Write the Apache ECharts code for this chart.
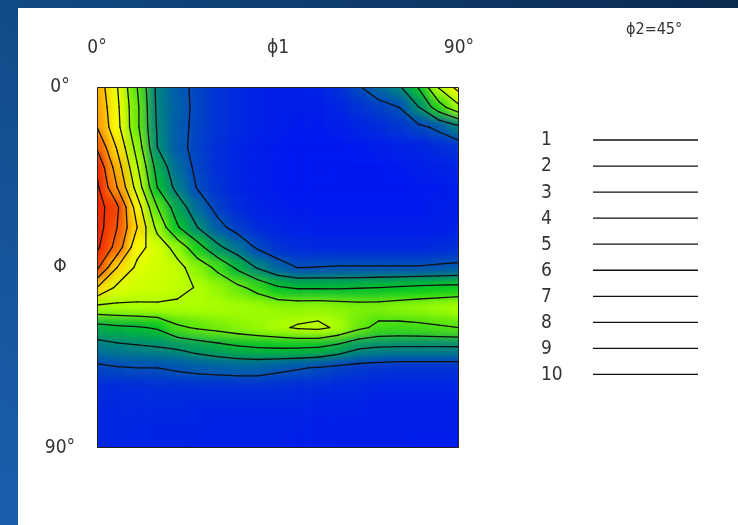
<!DOCTYPE html>
<html>
<head>
<meta charset="utf-8">
<title>ODF section phi2=45</title>
<script src="https://cdn.jsdelivr.net/npm/echarts/dist/echarts.min.js"></script>
<style>
  html, body { margin: 0; padding: 0; width: 738px; height: 525px; overflow: hidden; }
  body { background: linear-gradient(to top right, #1a5fae 0%, #124d8c 45%, #0a2a4e 100%); }
  #panel { position: absolute; left: 18px; top: 8px; width: 720px; height: 517px; background: #fff; }
  /* colour layer sits under the plot box, softened like the original rendering */
  #heatClip { position: absolute; left: 79px; top: 79px; width: 362px; height: 361px; overflow: hidden; }
  #heat { position: absolute; left: -30px; top: -30px; width: 422px; height: 421px; filter: blur(6px); }
  #main { position: absolute; left: 0; top: 0; width: 720px; height: 517px; }
</style>
</head>
<body>
<div id="panel">
  <div id="heatClip"><div id="heat"></div></div>
  <div id="main"></div>
</div>
<script>
// grid nodes, degrees (phi1 across, Phi down)
var angles = [0, 5, 10, 15, 20, 25, 30, 35, 40, 45, 50, 55, 60, 65, 70, 75, 80, 85, 90];
var phi1Labels = ['0°', 'ϕ1', '90°'];
var PhiLabels = ['0°', 'Φ', '90°'];
var contourLevels = [1, 2, 3, 4, 5, 6, 7, 8, 9, 10];

var odf = [
  [7.6, 6.05, 4.0, 1.75, 1.2, 0.85, 0.6, 0.45, 0.35, 0.3, 0.3, 0.35, 0.55, 0.95, 1.35, 1.85, 3.1, 5.1, 6.4],
  [7.8, 6.2, 4.2, 1.8, 1.25, 0.85, 0.6, 0.45, 0.35, 0.3, 0.3, 0.3, 0.4, 0.6, 0.8, 1.0, 2.0, 3.6, 4.8],
  [8.0, 6.3, 4.2, 1.9, 1.2, 0.85, 0.6, 0.45, 0.35, 0.3, 0.25, 0.25, 0.3, 0.4, 0.5, 0.65, 0.85, 1.15, 1.8],
  [8.9, 6.9, 4.6, 2.0, 1.2, 0.8, 0.55, 0.4, 0.3, 0.25, 0.2, 0.2, 0.2, 0.25, 0.3, 0.35, 0.4, 0.5, 0.6],
  [9.85, 7.5, 5.1, 2.6, 1.4, 0.85, 0.55, 0.4, 0.3, 0.25, 0.2, 0.2, 0.2, 0.2, 0.2, 0.25, 0.3, 0.35, 0.4],
  [10.2, 8.0, 5.6, 3.0, 1.7, 0.95, 0.6, 0.4, 0.3, 0.25, 0.2, 0.2, 0.2, 0.2, 0.2, 0.2, 0.25, 0.25, 0.3],
  [10.5, 9.2, 6.5, 4.0, 2.5, 1.4, 0.8, 0.5, 0.35, 0.3, 0.25, 0.25, 0.25, 0.25, 0.25, 0.25, 0.25, 0.3, 0.3],
  [10.5, 9.0, 7.0, 4.7, 3.1, 2.0, 1.2, 0.75, 0.5, 0.4, 0.35, 0.3, 0.3, 0.3, 0.3, 0.3, 0.3, 0.3, 0.35],
  [10.2, 8.6, 6.3, 5.6, 4.6, 3.4, 2.2, 1.5, 0.9, 0.6, 0.5, 0.45, 0.45, 0.45, 0.45, 0.45, 0.45, 0.5, 0.55],
  [9.2, 7.0, 5.8, 5.55, 5.3, 4.5, 3.8, 2.8, 1.9, 1.3, 0.98, 1.02, 1.05, 1.05, 1.05, 1.05, 1.05, 1.1, 1.15],
  [7.0, 5.8, 5.5, 5.4, 5.2, 4.95, 4.6, 4.2, 3.7, 3.1, 2.9, 2.9, 2.9, 2.95, 3.0, 3.1, 3.2, 3.25, 3.3],
  [4.7, 4.75, 4.8, 4.85, 4.85, 4.85, 4.8, 4.75, 4.7, 4.6, 4.55, 4.6, 4.5, 4.4, 4.4, 4.5, 4.6, 4.7, 4.85],
  [2.6, 2.8, 2.9, 3.1, 3.85, 4.1, 4.3, 4.5, 4.65, 4.85, 5.1, 5.2, 4.85, 4.2, 3.8, 3.75, 3.8, 3.9, 4.0],
  [1.6, 1.75, 1.85, 1.95, 2.1, 2.35, 2.6, 2.85, 3.0, 3.05, 3.05, 2.95, 2.6, 2.1, 1.95, 1.9, 1.9, 1.9, 1.9],
  [0.85, 0.95, 1.0, 1.0, 1.1, 1.2, 1.25, 1.3, 1.3, 1.15, 1.05, 0.95, 0.8, 0.7, 0.65, 0.6, 0.6, 0.6, 0.6],
  [0.5, 0.5, 0.5, 0.55, 0.55, 0.55, 0.55, 0.55, 0.55, 0.55, 0.5, 0.5, 0.45, 0.45, 0.4, 0.4, 0.4, 0.4, 0.4],
  [0.45, 0.45, 0.45, 0.45, 0.45, 0.4, 0.4, 0.4, 0.4, 0.4, 0.4, 0.35, 0.35, 0.35, 0.3, 0.3, 0.3, 0.3, 0.3],
  [0.45, 0.45, 0.4, 0.4, 0.4, 0.4, 0.35, 0.35, 0.35, 0.35, 0.35, 0.3, 0.3, 0.3, 0.3, 0.3, 0.3, 0.3, 0.3],
  [0.45, 0.4, 0.4, 0.4, 0.4, 0.35, 0.35, 0.35, 0.35, 0.35, 0.3, 0.3, 0.3, 0.3, 0.3, 0.3, 0.25, 0.25, 0.25]
];

var FONT = '"Liberation Sans Narrow", "DejaVu Sans Condensed", "Liberation Sans", sans-serif';
var TEXT = '#333';
var half = (angles[1] - angles[0]) / 2;
var lo = angles[0], hi = angles[angles.length - 1];

// one cell per node
var cells = [];
odf.forEach(function (row, j) {
  row.forEach(function (v, i) {
    cells.push([angles[i], angles[j], v]);
  });
});

// marching squares over the node grid
function contourSegments(level) {
  var segs = [];
  for (var j = 0; j < angles.length - 1; j++) {
    for (var i = 0; i < angles.length - 1; i++) {
      var v = [odf[j][i], odf[j][i + 1], odf[j + 1][i + 1], odf[j + 1][i]];
      var c = [[angles[i], angles[j]], [angles[i + 1], angles[j]],
               [angles[i + 1], angles[j + 1]], [angles[i], angles[j + 1]]];
      var pts = [];
      for (var e = 0; e < 4; e++) {
        var a = v[e], b = v[(e + 1) % 4];
        if ((a >= level) !== (b >= level)) {
          var t = (level - a) / (b - a);
          var p = c[e], q = c[(e + 1) % 4];
          pts.push([p[0] + t * (q[0] - p[0]), p[1] + t * (q[1] - p[1])]);
        }
      }
      if (pts.length === 2) {
        segs.push([pts[0][0], pts[0][1], pts[1][0], pts[1][1], level]);
      } else if (pts.length === 4) {
        var mid = (v[0] + v[1] + v[2] + v[3]) / 4;
        if ((mid >= level) === (v[0] >= level)) {
          segs.push([pts[0][0], pts[0][1], pts[1][0], pts[1][1], level]);
          segs.push([pts[2][0], pts[2][1], pts[3][0], pts[3][1], level]);
        } else {
          segs.push([pts[0][0], pts[0][1], pts[3][0], pts[3][1], level]);
          segs.push([pts[1][0], pts[1][1], pts[2][0], pts[2][1], level]);
        }
      }
    }
  }
  return segs;
}

var segments = [];
contourLevels.forEach(function (lv) {
  segments = segments.concat(contourSegments(lv));
});

var hiddenX = { type: 'value', min: lo, max: hi, show: false };
var hiddenY = { type: 'value', min: lo, max: hi, inverse: true, show: false };

// colour layer
var heat = echarts.init(document.getElementById('heat'));
heat.setOption({
  animation: false,
  grid: { left: 30, top: 30, width: 362, height: 361, outerBoundsMode: 'none' },
  xAxis: hiddenX,
  yAxis: hiddenY,
  visualMap: {
    show: false, type: 'continuous', min: 0, max: 9.6, dimension: 2,
    inRange: { color: ['#0008ff', '#007890', '#00c820', '#a8ff00', '#ffff00', '#ff9400', '#f02800'] }
  },
  series: [{
    type: 'custom',
    clip: false,
    data: cells,
    encode: { x: 0, y: 1 },
    renderItem: function (params, api) {
      var x = api.value(0), y = api.value(1);
      // edge cells run on past the frame so the softening does not fade at the border
      var x0 = x === lo ? lo - 12 : x - half, x1 = x === hi ? hi + 12 : x + half;
      var y0 = y === lo ? lo - 12 : y - half, y1 = y === hi ? hi + 12 : y + half;
      var p0 = api.coord([x0, y0]);
      var p1 = api.coord([x1, y1]);
      return {
        type: 'rect',
        shape: {
          x: Math.min(p0[0], p1[0]), y: Math.min(p0[1], p1[1]),
          width: Math.abs(p1[0] - p0[0]) + 0.6, height: Math.abs(p1[1] - p0[1]) + 0.6
        },
        style: { fill: api.visual('color') }
      };
    }
  }]
});

// legend on the right: level number + line sample, and the plot frame
var overlay = [];
contourLevels.forEach(function (lv, k) {
  var y = 132 + k * 26.05;
  overlay.push({
    type: 'text', left: 523, top: y - 9,
    style: { text: String(lv), fill: TEXT, font: '19px ' + FONT }
  });
  overlay.push({
    type: 'line', shape: { x1: 575, y1: y, x2: 680, y2: y },
    style: { stroke: '#111', lineWidth: 1.3 }
  });
});
overlay.push({
  type: 'rect', z: 100,
  shape: { x: 79.5, y: 79.5, width: 361, height: 360 },
  style: { fill: null, stroke: '#222', lineWidth: 1 }
});

var chart = echarts.init(document.getElementById('main'));
chart.setOption({
  animation: false,
  backgroundColor: 'transparent',
  title: {
    text: 'ϕ2=45°', left: 603, top: 9,
    textStyle: { fontSize: 16, fontWeight: 'normal', color: TEXT, fontFamily: FONT }
  },
  grid: { left: 79, top: 79, width: 362, height: 361, show: false, outerBoundsMode: 'none' },
  xAxis: {
    type: 'value', position: 'top', min: lo, max: hi, interval: 45,
    axisLine: { show: false }, axisTick: { show: false }, splitLine: { show: false },
    axisLabel: {
      margin: 39, verticalAlign: 'middle', color: TEXT, fontSize: 19, fontFamily: FONT,
      formatter: function (v) { return phi1Labels[v / 45]; }
    }
  },
  yAxis: {
    type: 'value', inverse: true, min: lo, max: hi, interval: 45,
    axisLine: { show: false }, axisTick: { show: false }, splitLine: { show: false },
    axisLabel: {
      margin: 37, align: 'center', verticalAlign: 'middle', color: TEXT, fontSize: 19, fontFamily: FONT,
      formatter: function (v) { return PhiLabels[v / 45]; }
    }
  },
  graphic: overlay,
  series: [{
    type: 'custom',
    clip: true,
    data: segments,
    encode: { x: [0, 2], y: [1, 3] },
    renderItem: function (params, api) {
      var a = api.coord([api.value(0), api.value(1)]);
      var b = api.coord([api.value(2), api.value(3)]);
      return {
        type: 'line',
        shape: { x1: a[0], y1: a[1], x2: b[0], y2: b[1] },
        style: { stroke: '#111', lineWidth: 1.3, lineCap: 'round' }
      };
    }
  }]
});
</script>
</body>
</html>
